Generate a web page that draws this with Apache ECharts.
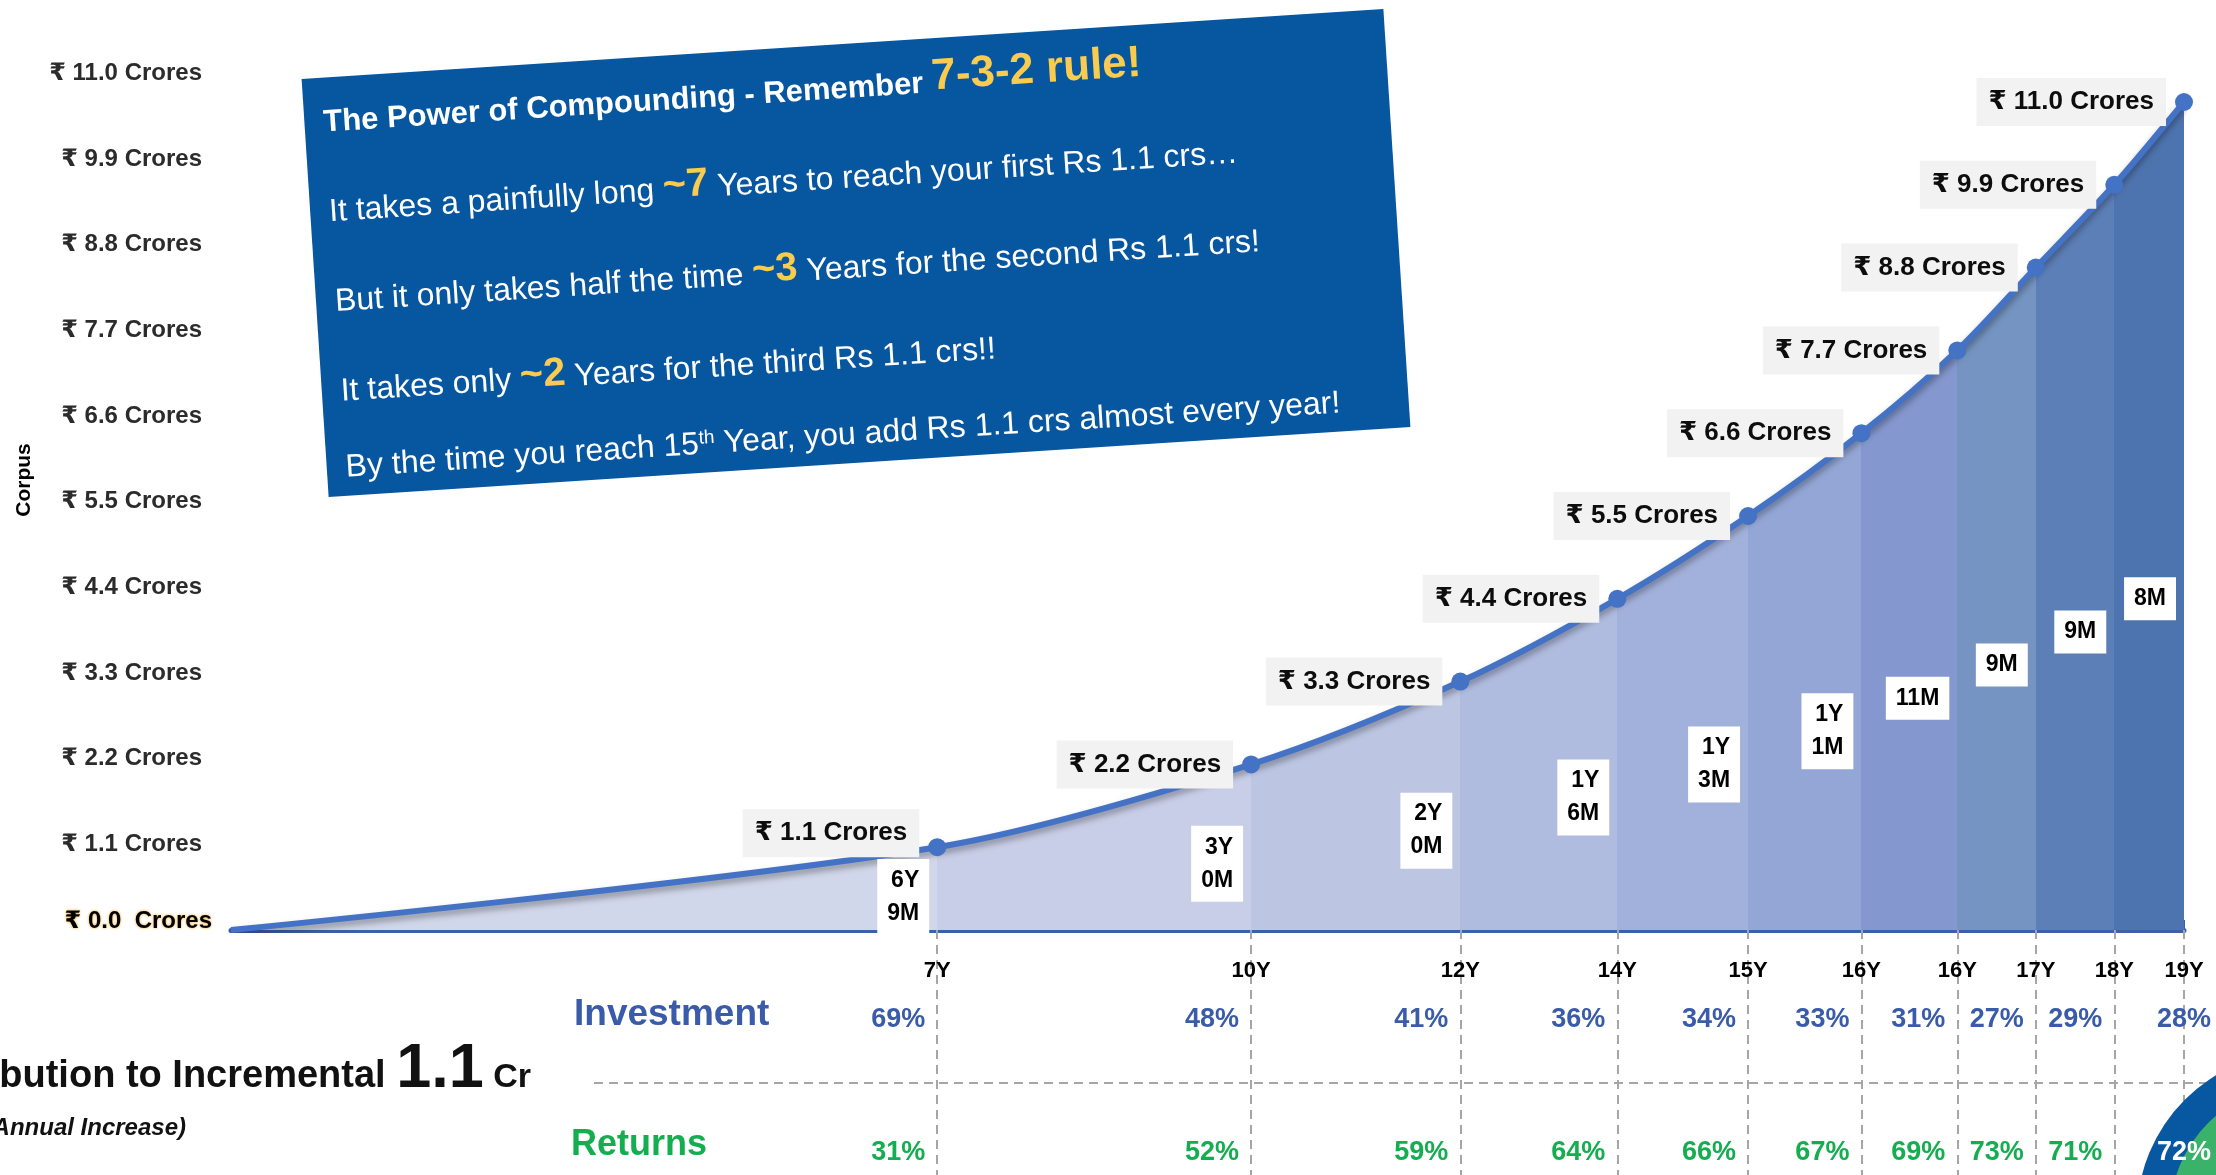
<!DOCTYPE html>
<html><head><meta charset="utf-8">
<script src="https://cdn.jsdelivr.net/npm/echarts@6/dist/echarts.min.js"></script>
<style>html,body{margin:0;padding:0;background:#fff}#c{width:2216px;height:1175px}</style>
</head><body><div id="c"></div>
<script>
// ---------------- DATA ----------------
const periodLabels   = ['6Y\n9M','3Y\n0M','2Y\n0M','1Y\n6M','1Y\n3M','1Y\n1M','11M','9M','9M','8M'];
const periodMonths   = [81, 36, 24, 18, 15, 13, 11, 9, 9, 8];
const corpusCrores   = [0, 1.1, 2.2, 3.3, 4.4, 5.5, 6.6, 7.7, 8.8, 9.9, 11.0];
const yearTickLabels = ['7Y','10Y','12Y','14Y','15Y','16Y','16Y','17Y','18Y','19Y'];
const investmentPct  = [69, 48, 41, 36, 34, 33, 31, 27, 29, 28];
const returnsPct     = [31, 52, 59, 64, 66, 67, 69, 73, 71, 72];
const yTickValues    = [0, 1.1, 2.2, 3.3, 4.4, 5.5, 6.6, 7.7, 8.8, 9.9, 11.0];
const rowNames       = ['Investment', 'Returns'];

// ---------------- STYLE ----------------
const bandColors = ['#D1D7EA','#C8CEE7','#BCC5E2','#AFBBDF','#A2B1DB','#93A6D5','#8498CF','#7594C1','#5D7FB7','#4E74AF'];
const FONT = '"Liberation Sans", Arial, "DejaVu Sans", sans-serif';
const BLUE_TXT = '#3A5BA9', GREEN_TXT = '#14AE50', LINE = '#4472C4', AXIS = '#3D60AC';

// ---------------- DERIVED ----------------
const cum = [0];
periodMonths.forEach(m => cum.push(cum[cum.length - 1] + m));
const total = cum[cum.length - 1];
const ends = cum.slice(1);
const tickLabelByMonth = {};
ends.forEach((m, i) => tickLabelByMonth[m] = yearTickLabels[i]);

const stops = [];
for (let i = 0; i < bandColors.length; i++) {
  stops.push({ offset: cum[i] / total, color: bandColors[i] });
  stops.push({ offset: cum[i + 1] / total, color: bandColors[i] });
}

const lineData = corpusCrores.map((v, i) => {
  const d = { value: [cum[i], v] };
  if (i === 0) { d.symbol = 'none'; d.label = { show: false }; }
  if (i === 1) { d.label = { offset: [0, -14] }; }
  return d;
});

const durData = periodLabels.map((t, i) => ({ value: [ends[i], corpusCrores[i + 1] * 0.40], name: t }));

function pctData(arr, row, color) {
  return arr.map((p, i) => {
    const d = { value: [ends[i], row], pct: p };
    if (i === arr.length - 1) {
      d.label = { position: 'inside', color: row === 0 ? '#FFFFFF' : color };
    }
    return d;
  });
}

const chart = echarts.init(document.getElementById('c'), null, { renderer: 'canvas' });

const option = {
  animation: false,
  backgroundColor: '#FFFFFF',
  grid: [
    { left: 231, right: 32, top: 102, bottom: 245 },   // data
    { left: 231, right: 32, top: 73.5, bottom: 245 },  // y-axis labels
    { left: 231, right: 32, top: 1020, bottom: 22 }    // percentages table
  ],
  xAxis: [
    { gridIndex: 0, type: 'value', min: 0, max: total, position: 'bottom',
      axisLine: { show: true, lineStyle: { color: AXIS, width: 5, cap: 'round' } },
      axisTick: { show: true, inside: true, length: 10, customValues: ends, lineStyle: { color: AXIS, width: 2 } },
      axisLabel: { show: true, customValues: ends, margin: 30, formatter: v => tickLabelByMonth[v] || '',
        color: '#000', fontSize: 22, fontWeight: 'bold', fontFamily: FONT },
      splitLine: { show: false } },
    { gridIndex: 0, type: 'value', min: 0, max: total, position: 'bottom',
      axisLine: { show: false }, axisLabel: { show: false }, splitLine: { show: false },
      axisTick: { show: true, inside: false, length: 250, customValues: ends,
        lineStyle: { color: '#A6A6A6', width: 2, type: [9, 6] } } },
    { gridIndex: 1, type: 'value', min: 0, max: total, show: false },
    { gridIndex: 2, type: 'value', min: 0, max: total, show: false }
  ],
  yAxis: [
    { gridIndex: 0, type: 'value', min: 0, max: 11, show: false },
    { gridIndex: 1, type: 'value', min: 0, max: 11,
      axisLine: { show: false }, axisTick: { show: false }, splitLine: { show: false },
      axisLabel: { show: true, customValues: yTickValues, margin: 19,
        formatter: v => v === 0 ? '{z|₹ 0.0  Crores}' : '{a|₹ ' + v.toFixed(1) + ' Crores}',
        rich: {
          a: { fontSize: 24, color: '#2B2B2B', fontWeight: 'bold', fontFamily: FONT, padding: [0, 10, 0, 0] },
          z: { fontSize: 24, color: '#000000', fontWeight: 'bold', fontFamily: FONT, padding: [0, 0, 18, 0],
               textShadowColor: '#F5A623', textShadowBlur: 3 }
        } } },
    { gridIndex: 2, type: 'value', min: 0, max: 1, show: false }
  ],
  series: [
    { type: 'pie', silent: true, z: 1, center: [2300, 1215], radius: [0, 163],
      label: { show: false }, labelLine: { show: false },
      itemStyle: { color: '#0757A1' }, data: [{ value: 1 }] },
    { type: 'pie', silent: true, z: 1, center: [2300, 1215], radius: [0, 130],
      label: { show: false }, labelLine: { show: false },
      itemStyle: { color: '#3BB26A' }, data: [{ value: 1 }] },
    { type: 'line', xAxisIndex: 0, yAxisIndex: 0, z: 3,
      smooth: 0.3,
      symbol: 'circle', symbolSize: 18,
      itemStyle: { color: LINE },
      lineStyle: { color: LINE, width: 6, shadowColor: 'rgba(0,0,0,0.35)', shadowBlur: 6, shadowOffsetY: 4 },
      areaStyle: { opacity: 1, color: new echarts.graphic.LinearGradient(0, 0, 1, 0, stops) },
      label: { show: true, position: 'left', distance: 9,
        formatter: p => '₹ ' + p.value[1].toFixed(1) + ' Crores',
        backgroundColor: '#F2F2F2', padding: [11, 12], color: '#0D0D0D',
        fontSize: 26, fontWeight: 'bold', fontFamily: FONT },
      data: lineData },
    { type: 'scatter', xAxisIndex: 0, yAxisIndex: 0, z: 4, symbolSize: 0, silent: true,
      itemStyle: { opacity: 1 },
      label: { show: true, position: 'left', distance: 8, formatter: p => p.name,
        backgroundColor: '#FFFFFF', padding: [5, 10], color: '#000',
        fontSize: 23, fontWeight: 'bold', lineHeight: 33, fontFamily: FONT },
      data: durData },
    { type: 'scatter', xAxisIndex: 3, yAxisIndex: 2, z: 5, symbolSize: 0, silent: true,
      itemStyle: { opacity: 1 },
      label: { show: true, position: 'left', distance: 12, formatter: p => p.data.pct + '%',
        color: BLUE_TXT, fontSize: 27, fontWeight: 'bold', fontFamily: FONT },
      data: pctData(investmentPct, 1, BLUE_TXT) },
    { type: 'scatter', xAxisIndex: 3, yAxisIndex: 2, z: 5, symbolSize: 0, silent: true,
      itemStyle: { opacity: 1 },
      label: { show: true, position: 'left', distance: 12, formatter: p => p.data.pct + '%',
        color: GREEN_TXT, fontSize: 27, fontWeight: 'bold', fontFamily: FONT },
      data: pctData(returnsPct, 0, GREEN_TXT) }
  ],
  graphic: []
};

// ----- annotation box (rotated) -----
const BW = 1084, BH = 419, L = -BW / 2, T = -BH / 2;
const body = { fontSize: 32, fontFamily: FONT, fill: '#FFFFFF', lineHeight: 32, verticalAlign: 'bottom' };
const big  = { fontSize: 40, fontFamily: FONT, fontWeight: 'bold', fill: '#F9CB4F', lineHeight: 40, verticalAlign: 'bottom' };
const big2 = { fontSize: 44, fontFamily: FONT, fontWeight: 'bold', fill: '#F9CB4F', lineHeight: 44, verticalAlign: 'bottom' };
const sup  = { fontSize: 19, fontFamily: FONT, fill: '#FFFFFF', lineHeight: 19, verticalAlign: 'top' };
const ttl  = { fontSize: 31, fontFamily: FONT, fontWeight: 'bold', fill: '#FFFFFF', lineHeight: 31, verticalAlign: 'bottom' };
const boxLines = [
  { y: 50,  text: '{t|The Power of Compounding - Remember }{r|7-3-2 rule!}' },
  { y: 140, text: '{n|It takes a painfully long }{b|~7}{n| Years to reach your first Rs 1.1 crs…}' },
  { y: 230, text: '{n|But it only takes half the time }{b|~3}{n| Years for the second Rs 1.1 crs!}' },
  { y: 320, text: '{n|It takes only }{b|~2}{n| Years for the third Rs 1.1 crs!!}' },
  { y: 396, text: '{n|By the time you reach 15}{s|th}{n| Year, you add Rs 1.1 crs almost every year!}' }
];
option.graphic.push({
  type: 'group', x: 856, y: 253, rotation: 3.7 * Math.PI / 180, z: 10,
  children: [
    { type: 'rect', shape: { x: L, y: T, width: BW, height: BH }, style: { fill: '#0756A0' } }
  ].concat(boxLines.map(l => ({
    type: 'text', x: L + 19, y: T + l.y + 11,
    style: { text: l.text, align: 'left', verticalAlign: 'bottom', textAlign: 'left', textVerticalAlign: 'bottom',
      rich: { t: ttl, b: big, r: big2, n: body, s: sup } }
  })))
});

// ----- axis title -----
option.graphic.push({
  type: 'text', x: 24, y: 480, rotation: Math.PI / 2,
  style: { text: 'Corpus', font: 'bold 21px ' + FONT, fill: '#000', align: 'center', verticalAlign: 'middle',
    textAlign: 'center', textVerticalAlign: 'middle' }
});

// ----- left caption -----
option.graphic.push({
  type: 'text', x: 531, y: 1101,
  style: { text: '{a|Contribution to Incremental }{b|1.1}{c| Cr}', align: 'right', verticalAlign: 'bottom',
    textAlign: 'right', textVerticalAlign: 'bottom',
    rich: {
      a: { fontSize: 38, fontWeight: 'bold', fontFamily: FONT, fill: '#111', lineHeight: 38, verticalAlign: 'bottom', padding: [0, 0, 5, 0] },
      b: { fontSize: 63, fontWeight: 'bold', fontFamily: FONT, fill: '#111', lineHeight: 63, verticalAlign: 'bottom' },
      c: { fontSize: 34, fontWeight: 'bold', fontFamily: FONT, fill: '#111', lineHeight: 34, verticalAlign: 'bottom', padding: [0, 0, 6, 0] }
    } }
});
option.graphic.push({
  type: 'text', x: 186, y: 1128,
  style: { text: '(Annual Increase)', font: 'italic bold 24px ' + FONT, fill: '#111',
    align: 'right', verticalAlign: 'middle', textAlign: 'right', textVerticalAlign: 'middle' }
});

// ----- row names -----
option.graphic.push({
  type: 'text', x: 574, y: 1015,
  style: { text: rowNames[0], font: 'bold 37px ' + FONT, fill: BLUE_TXT, align: 'left', verticalAlign: 'middle',
    textAlign: 'left', textVerticalAlign: 'middle' }
});
option.graphic.push({
  type: 'text', x: 571, y: 1145,
  style: { text: rowNames[1], font: 'bold 36px ' + FONT, fill: GREEN_TXT, align: 'left', verticalAlign: 'middle',
    textAlign: 'left', textVerticalAlign: 'middle' }
});

// ----- horizontal dashed separator -----
option.graphic.push({
  type: 'line', z: 0, shape: { x1: 594, y1: 1083, x2: 2216, y2: 1083 },
  style: { stroke: '#A6A6A6', lineWidth: 2, lineDash: [9, 6] }
});

chart.setOption(option);
</script>
</body></html>
